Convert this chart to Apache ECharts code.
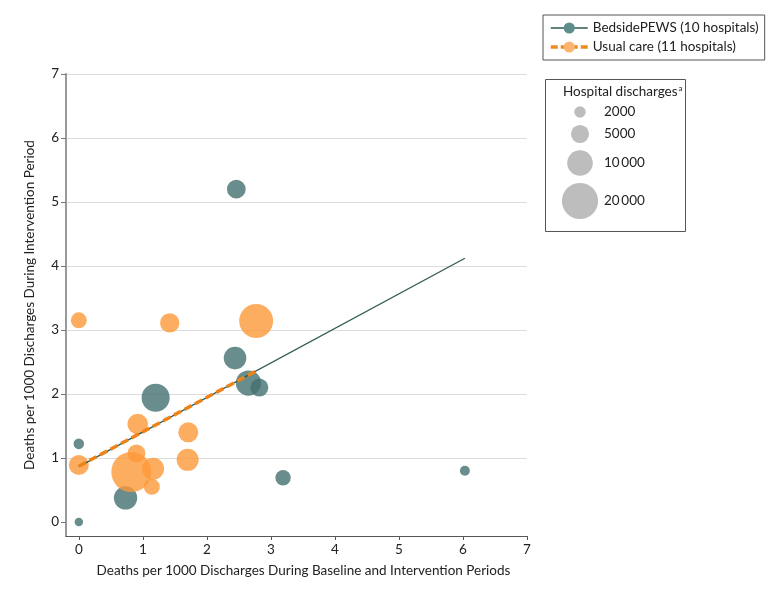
<!DOCTYPE html>
<html>
<head>
<meta charset="utf-8">
<script src="https://cdn.jsdelivr.net/npm/echarts@6/dist/echarts.min.js"></script>
<style>
html,body{margin:0;padding:0;background:#fff;}
#chart{width:780px;height:591px;}
</style>
</head>
<body>
<div id="chart"></div>
<script>
// ---- data ----
var pewsName = 'BedsidePEWS (10 hospitals)';
var usualName = 'Usual care (11 hospitals)';
// [baseline+intervention deaths/1000, intervention deaths/1000, discharges]
var pewsX = [2.46, 2.44, 1.20, 2.65, 2.82, 0.00, 0.73, 0.00, 3.19, 6.03];
var pewsY = [5.20, 2.56, 1.94, 2.17, 2.10, 1.22, 0.375, 0.00, 0.69, 0.80];
var pewsN = [5300, 7800, 12000, 9800, 4900, 1700, 8300, 1100, 3600, 1500];
var usualX = [0.00, 1.42, 2.77, 0.92, 1.71, 0.90, 0.00, 1.70, 0.82, 1.16, 1.14];
var usualY = [3.15, 3.11, 3.14, 1.53, 1.40, 1.07, 0.89, 0.97, 0.78, 0.83, 0.55];
var usualN = [3900, 5700, 17600, 6500, 6100, 4900, 6100, 7400, 24400, 7400, 3900];
// fitted lines (endpoints)
var pewsFitX = [0, 6.03];
var pewsFitY = [0.865, 4.12];
var usualFitX = [0, 2.77];
var usualFitY = [0.87, 2.36];
// ticks
var xTicks = [0, 1, 2, 3, 4, 5, 6, 7];
var yTicks = [0, 1, 2, 3, 4, 5, 6, 7];
// size legend
var sizeLegendN = [2000, 5000, 10000, 20000];
var sizeLegendLabels = ['2000', '5000', '10\u2009000', '20\u2009000'];

// ---- styling ----
var FONT = 'Lato';
var FS = 13.5;
var K = 0.128; // radius per sqrt(discharges)
function radius(n) { return K * Math.sqrt(n); }
function zip3(a, b, c) { return a.map(function (v, i) { return [v, b[i], c[i]]; }); }
function zip2(a, b) { return a.map(function (v, i) { return [v, b[i]]; }); }

var tealFill = '#43706f';
var orangeFill = '#fd9838';

var chart = echarts.init(document.getElementById('chart'), null, {renderer: 'canvas'});

var legendCy = [112, 134, 163, 201];
var graphics = [{
  type: 'rect', left: 543, top: 77,
  shape: {width: 140, height: 152},
  style: {fill: 'none', stroke: '#555', lineWidth: 1}
}, {
  type: 'text', left: 563, top: 84,
  style: {
    text: 'Hospital discharges{s|a}',
    font: FS + 'px ' + FONT, fill: '#222',
    rich: {s: {fontSize: 8, verticalAlign: 'top', padding: [0, 0, 8, 1], fontFamily: FONT, fill: '#222'}}
  }
}];
sizeLegendN.forEach(function (n, i) {
  graphics.push({
    type: 'circle',
    shape: {cx: 580, cy: legendCy[i], r: radius(n)},
    style: {fill: '#bdbdbd'}
  });
  graphics.push({
    type: 'text', x: 604, y: legendCy[i],
    style: {text: sizeLegendLabels[i], font: FS + 'px ' + FONT, fill: '#222', verticalAlign: 'middle', align: 'left'}
  });
});

var option = {
  animation: false,
  backgroundColor: '#fff',
  grid: {left: 66, right: 253, top: 74, bottom: 55, containLabel: false},
  legend: {
    orient: 'vertical', left: 543, top: 15,
    padding: [5, 6, 5, 6],
    borderColor: '#555', borderWidth: 1,
    itemWidth: 37, itemHeight: 14, itemGap: 3,
    textStyle: {fontSize: FS, fontFamily: FONT, color: '#222', lineHeight: 16},
    data: [
      {name: pewsName, lineStyle: {width: 1.5, color: '#2e5a50'}},
      {name: usualName, lineStyle: {width: 3.5, color: '#f08a1c', type: [7, 3]}}
    ],
    selectedMode: false
  },
  xAxis: {
    type: 'value', min: -0.2, max: 7,
    name: 'Deaths per 1000 Discharges During Baseline and Intervention Periods',
    nameLocation: 'middle', nameGap: 28,
    nameTextStyle: {fontSize: FS, fontFamily: FONT, color: '#222', padding: [0, 0, 0, 14]},
    axisLine: {show: true, onZero: false, lineStyle: {color: '#555', width: 1.2}},
    axisTick: {show: true, length: 4, customValues: xTicks, lineStyle: {color: '#555'}},
    axisLabel: {customValues: xTicks, fontSize: FS, fontFamily: FONT, color: '#222', margin: 7},
    splitLine: {show: false}
  },
  yAxis: {
    type: 'value', min: -0.22, max: 7,
    name: 'Deaths per 1000 Discharges During Intervention Period',
    nameLocation: 'middle', nameGap: 29,
    nameTextStyle: {fontSize: FS, fontFamily: FONT, color: '#222'},
    axisLine: {show: true, onZero: false, lineStyle: {color: '#9a9a9a', width: 2}},
    axisTick: {show: true, length: 5, customValues: yTicks, lineStyle: {color: '#777'}},
    axisLabel: {customValues: yTicks, fontSize: FS, fontFamily: FONT, color: '#222', margin: 7},
    splitLine: {show: true, showMinLine: false, lineStyle: {color: '#dcdcdc', width: 1}}
  },
  graphic: graphics,
  series: [{
    name: pewsName, type: 'line', z: 5,
    data: zip2(pewsFitX, pewsFitY),
    symbol: 'circle', showSymbol: false, silent: true,
    itemStyle: {color: '#5e8d8c'},
    lineStyle: {color: '#2e5a50', width: 1.3}
  }, {
    name: usualName, type: 'line', z: 6,
    data: zip2(usualFitX, usualFitY),
    symbol: 'circle', showSymbol: false, silent: true,
    itemStyle: {color: '#fdb46e'},
    lineStyle: {color: '#ee8417', width: 3.5, type: [8, 4]}
  }, {
    name: pewsName, type: 'scatter', z: 2,
    data: zip3(pewsX, pewsY, pewsN),
    symbolSize: function (d) { return 2 * radius(d[2]); },
    itemStyle: {color: tealFill, opacity: 0.8},
    clip: false
  }, {
    name: usualName, type: 'scatter', z: 2,
    data: zip3(usualX, usualY, usualN),
    symbolSize: function (d) { return 2 * radius(d[2]); },
    itemStyle: {color: orangeFill, opacity: 0.8},
    clip: false
  }]
};
chart.setOption(option);
</script>
</body>
</html>
